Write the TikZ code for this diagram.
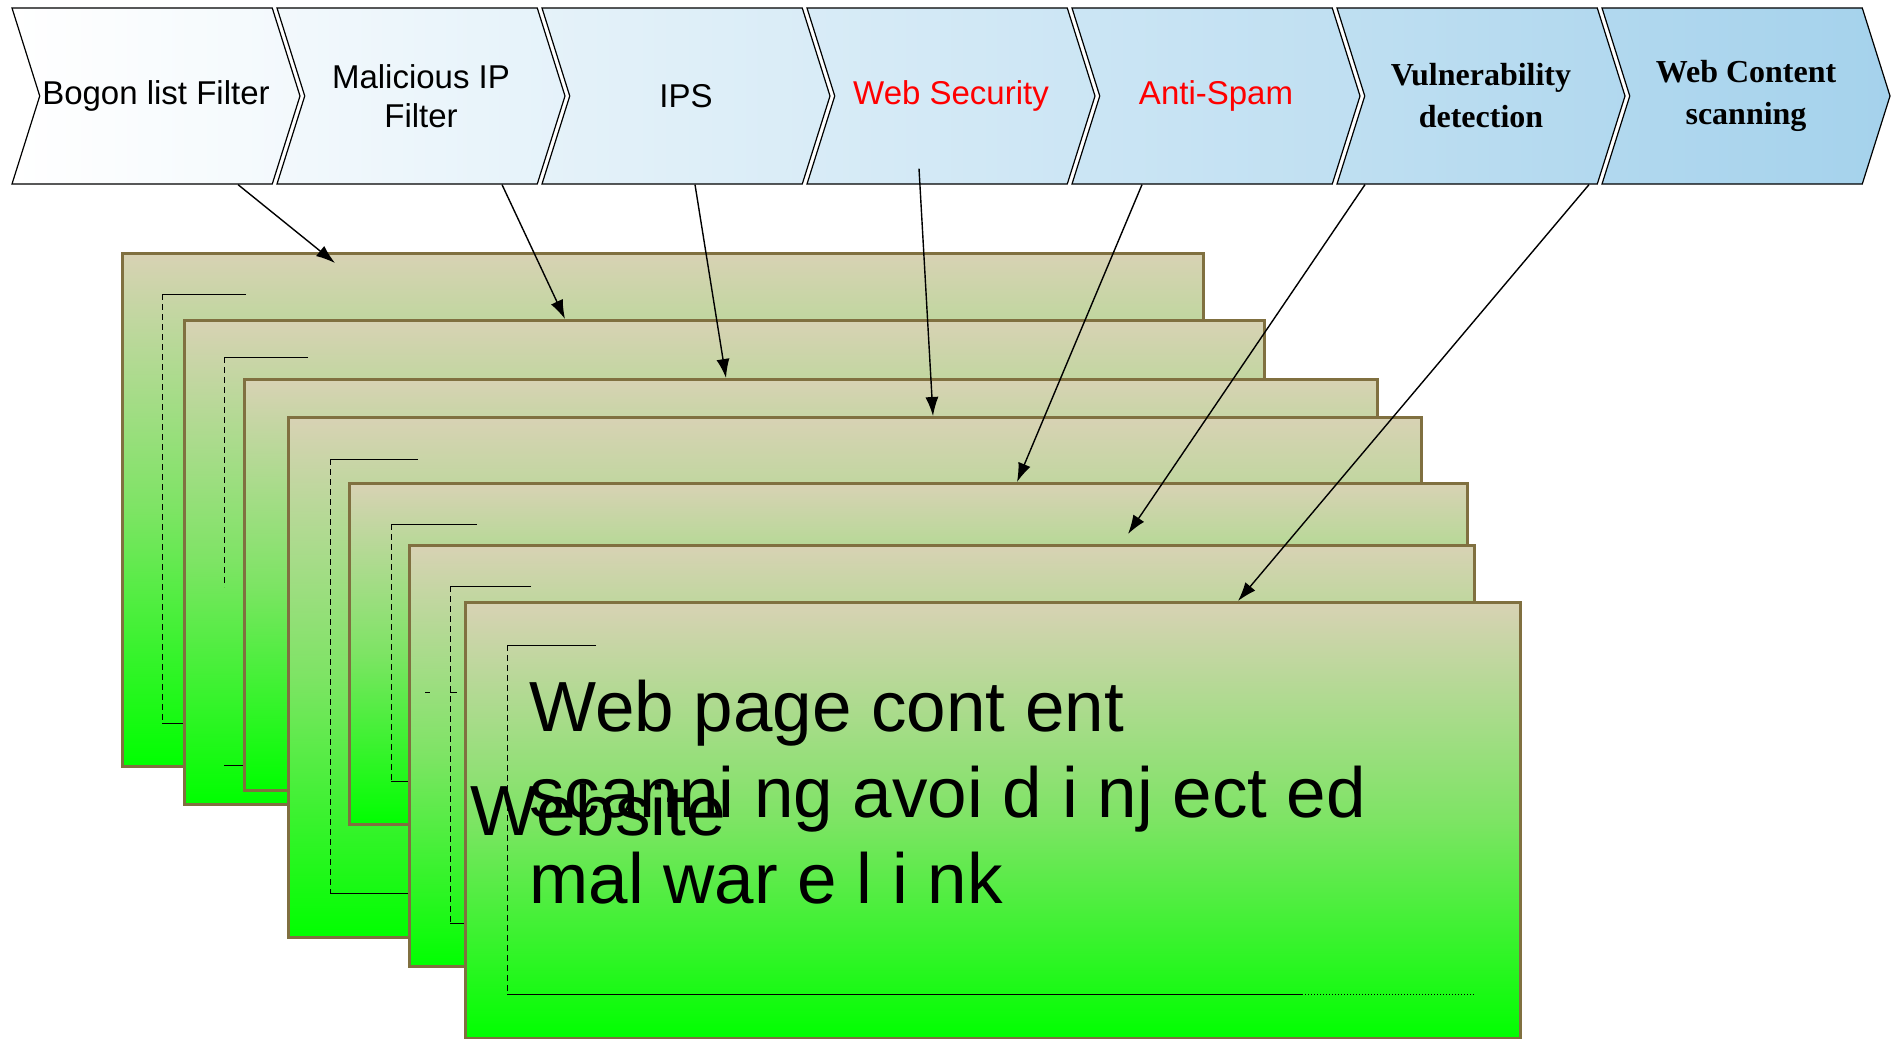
\documentclass[tikz,border=0pt]{standalone}
\usepackage{fontspec}
\setmainfont{Liberation Sans}
\newfontfamily\timesfont{Liberation Serif}
\usetikzlibrary{shapes.symbols,arrows.meta}

\definecolor{skyend}{RGB}{165,210,236}
\definecolor{pageedge}{RGB}{128,112,64}
\definecolor{pagetop}{RGB}{216,210,180}
\definecolor{pagemid}{RGB}{125,228,100}
\definecolor{pagebot}{RGB}{0,255,0}

\begin{document}
\begin{tikzpicture}[x=0.5pt, y=-0.5pt,
    chevron/.style={signal, signal from=west, signal to=east, signal pointer angle=145,
        draw, line width=0.6pt, minimum width=144pt, minimum height=88pt, inner sep=0pt,
        align=center, font=\fontsize{16.5}{19.5}\selectfont},
    serifchevron/.style={chevron, font=\timesfont\bfseries\fontsize{16}{21}\selectfont},
    page/.style={draw=pageedge, line width=1.6pt, anchor=north west, inner sep=0pt,
        top color=pagetop, bottom color=pagebot, middle color=pagemid},
    guide/.style={densely dashed, line width=0.5pt},
    flow/.style={-{Latex[length=9.5pt,width=6.5pt]}, line width=0.7pt},
    bigtext/.style={anchor=base west, inner sep=0pt, font=\fontsize{35.5}{43}\selectfont}]
    \useasboundingbox (0,0) rectangle (1898,1038);

    % filter chain
    \node[chevron, left color=white, right color=skyend!14!white] (bogon) at (156,96) {Bogon list Filter};
    \node[chevron, left color=skyend!14!white, right color=skyend!29!white] (malip) at (421,96) {Malicious IP\\Filter};
    \node[chevron, left color=skyend!29!white, right color=skyend!43!white] (ips) at (686,96) {IPS};
    \node[chevron, left color=skyend!43!white, right color=skyend!57!white, text=red] (websec) at (951,96) {Web Security};
    \node[chevron, left color=skyend!57!white, right color=skyend!71!white, text=red] (antispam) at (1216,96) {Anti-Spam};
    \node[serifchevron, left color=skyend!71!white, right color=skyend!86!white] (vuln) at (1481,96) {Vulnerability\\detection};
    \node[serifchevron, left color=skyend!86!white, right color=skyend] (webcont) at (1746,96) {Web Content\\scanning};

    % stacked pages
    \node[page, minimum width=540.5pt, minimum height=256.5pt] (b1) at (121,252) {};
    \draw[guide] (162,294) -- (162,723);
    \draw[line width=0.5pt] (246,294) -- (162,294) (162,723) -- (190,723);

    \node[page, minimum width=540pt, minimum height=242pt] (b2) at (183,319) {};
    \draw[guide] (224,357) -- (224,587);
    \draw[line width=0.5pt] (308,357) -- (224,357) (224,765) -- (250,765);

    \node[page, minimum width=566.5pt, minimum height=205.5pt] (b3) at (243,378) {};

    \node[page, minimum width=566.5pt, minimum height=260pt] (b4) at (287,416) {};
    \draw[guide] (330,459) -- (330,893);
    \draw[line width=0.5pt] (418,459) -- (330,459) (330,893) -- (415,893);

    \node[page, minimum width=559pt, minimum height=170.5pt] (b5) at (348,482) {};
    \draw[guide] (391,524) -- (391,781);
    \draw[line width=0.5pt] (477,524) -- (391,524) (391,781) -- (415,781);

    \node[page, minimum width=532.5pt, minimum height=210.5pt] (b6) at (408,544) {};
    \draw[guide] (450,586) -- (450,923);
    \draw[line width=0.5pt] (531,586) -- (450,586) (450,923) -- (470,923)
        (425,692) -- (430,692) (450,692) -- (457,692);

    \node[page, minimum width=527.5pt, minimum height=218pt] (b7) at (464,601) {};
    \draw[guide] (507,645) -- (507,994);
    \draw[line width=0.5pt] (596,645) -- (507,645) (507,994) -- (1302,994);
    \draw[line width=0.5pt, densely dotted] (1302,994) -- (1475,994);

    % page text
    \node[bigtext] (line1) at (529,731) {Web page cont ent};
    \node[bigtext] (line2) at (529,817) {scanni ng avoi d i nj ect ed};
    \node[bigtext] (line3) at (529,903) {mal war e l i nk};
    \node[bigtext] (site) at (470,835) {Website};

    % filters to pages
    \draw[flow] ([xshift=41pt]bogon.south) -- ([shift={(107pt,-5.5pt)}]b1.north west);
    \draw[flow] ([xshift=40.5pt]malip.south) -- ([xshift=191pt]b2.north west);
    \draw[flow] ([xshift=4.5pt]ips.south) -- ([xshift=241.5pt]b3.north west);
    \draw[flow] ([shift={(-16pt,8pt)}]websec.south) -- ([xshift=323pt]b4.north west);
    \draw[flow] ([xshift=-37pt]antispam.south) -- ([xshift=334.5pt]b5.north west);
    \draw[flow] ([xshift=-58pt]vuln.south) -- ([shift={(360pt,5pt)}]b6.north west);
    \draw[flow] ([xshift=-78.5pt]webcont.south) -- ([xshift=387pt]b7.north west);
\end{tikzpicture}
\end{document}
